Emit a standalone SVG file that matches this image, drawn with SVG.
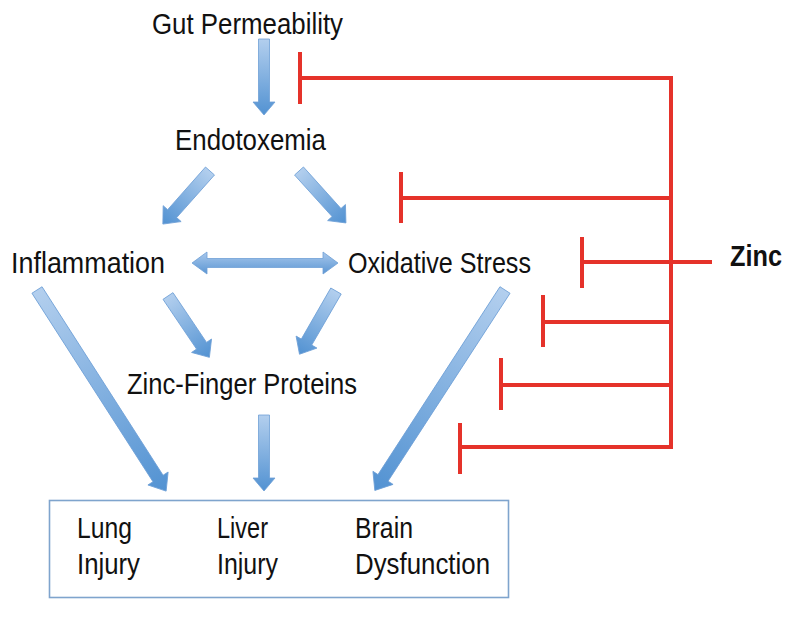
<svg xmlns="http://www.w3.org/2000/svg" width="793" height="619" viewBox="0 0 793 619">
<defs>
<linearGradient id="bg" x1="0" y1="0" x2="1" y2="0">
<stop offset="0" stop-color="#b3cfee"/>
<stop offset="1" stop-color="#5292d2"/>
</linearGradient>
<linearGradient id="bg2" x1="0" y1="0" x2="0" y2="1">
<stop offset="0" stop-color="#a9c8ec"/>
<stop offset="1" stop-color="#5b96d3"/>
</linearGradient>
</defs>
<style>
.t{font-family:"Liberation Sans",Arial,sans-serif;font-size:29px;fill:#111}
.b{font-weight:bold}
.ba{fill:url(#bg);stroke:#6e9fd6;stroke-width:0.8}
.rd{stroke:#e5322a;stroke-width:4;fill:none;stroke-linecap:butt}
.box{fill:#fff;stroke:#7fa4cd;stroke-width:1.6}
</style>
<rect width="793" height="619" fill="#fff"/>

<g id="connectors">
<g id="a1" transform="translate(264,39) rotate(90)"><path class="ba" d="M0,-5.5 H63 V-11 L76,0 L63,11 V5.5 H0 Z"/></g>
<g id="a2" transform="translate(210,171) rotate(131.6)"><path class="ba" d="M0,-6 H57 V-12 L71,0 L57,12 V6 H0 Z"/></g>
<g id="a3" transform="translate(299,171) rotate(47.9)"><path class="ba" d="M0,-6 H56 V-12 L70,0 L56,12 V6 H0 Z"/></g>
<g id="a4"><path d="M192,263 L207,252 V258.5 H323 V252 L338,263 L323,274 V267.5 H207 V274 Z" fill="url(#bg2)" stroke="#6e9fd6" stroke-width="0.8"/></g>
<g id="a5" transform="translate(168,296) rotate(56.0)"><path class="ba" d="M0,-6 H60 V-12 L74,0 L60,12 V6 H0 Z"/></g>
<g id="a6" transform="translate(336,291) rotate(120.0)"><path class="ba" d="M0,-6 H59 V-12 L73,0 L59,12 V6 H0 Z"/></g>
<g id="a7" transform="translate(37,290) rotate(57.3)"><path class="ba" d="M0,-6 H224 V-12 L239,0 L224,12 V6 H0 Z"/></g>
<g id="a8" transform="translate(505,290) rotate(123.0)"><path class="ba" d="M0,-6 H224 V-12 L239,0 L224,12 V6 H0 Z"/></g>
<g id="a9" transform="translate(264,415) rotate(90)"><path class="ba" d="M0,-5.5 H63 V-11 L76,0 L63,11 V5.5 H0 Z"/></g>

<g id="zinc-lines">
<path class="rd" d="M671,76 V449"/>
<path class="rd" d="M300,78 H673"/>
<path class="rd" d="M300,52 V104"/>
<path class="rd" d="M401,198 H671"/>
<path class="rd" d="M401,172 V223"/>
<path class="rd" d="M582,262 H712"/>
<path class="rd" d="M582,237 V288"/>
<path class="rd" d="M543,322 H671"/>
<path class="rd" d="M543,295 V347"/>
<path class="rd" d="M501,385 H671"/>
<path class="rd" d="M501,358 V410"/>
<path class="rd" d="M460,447 H673"/>
<path class="rd" d="M460,423 V474"/>
</g>
</g>

<g id="gut"><text class="t" x="152" y="34" textLength="191" lengthAdjust="spacingAndGlyphs">Gut Permeability</text></g>
<g id="endotoxemia"><text class="t" x="175" y="150" textLength="151" lengthAdjust="spacingAndGlyphs">Endotoxemia</text></g>
<g id="inflammation"><text class="t" x="11" y="273" textLength="154" lengthAdjust="spacingAndGlyphs">Inflammation</text></g>
<g id="oxidative"><text class="t" x="348" y="273" textLength="183" lengthAdjust="spacingAndGlyphs">Oxidative Stress</text></g>
<g id="zfp"><text class="t" x="127" y="394" textLength="230" lengthAdjust="spacingAndGlyphs">Zinc-Finger Proteins</text></g>
<g id="zinc"><text class="t b" x="730" y="266" font-size="28" textLength="52" lengthAdjust="spacingAndGlyphs">Zinc</text></g>

<g id="outcomes">
<rect class="box" x="49.5" y="500.5" width="459" height="97"/>
<text class="t" x="77" y="538" textLength="55" lengthAdjust="spacingAndGlyphs">Lung</text>
<text class="t" x="77" y="574" textLength="63" lengthAdjust="spacingAndGlyphs">Injury</text>
<text class="t" x="217" y="538" textLength="51" lengthAdjust="spacingAndGlyphs">Liver</text>
<text class="t" x="217" y="574" textLength="61" lengthAdjust="spacingAndGlyphs">Injury</text>
<text class="t" x="355" y="538" textLength="58" lengthAdjust="spacingAndGlyphs">Brain</text>
<text class="t" x="355" y="574" textLength="135" lengthAdjust="spacingAndGlyphs">Dysfunction</text>
</g>
</svg>
